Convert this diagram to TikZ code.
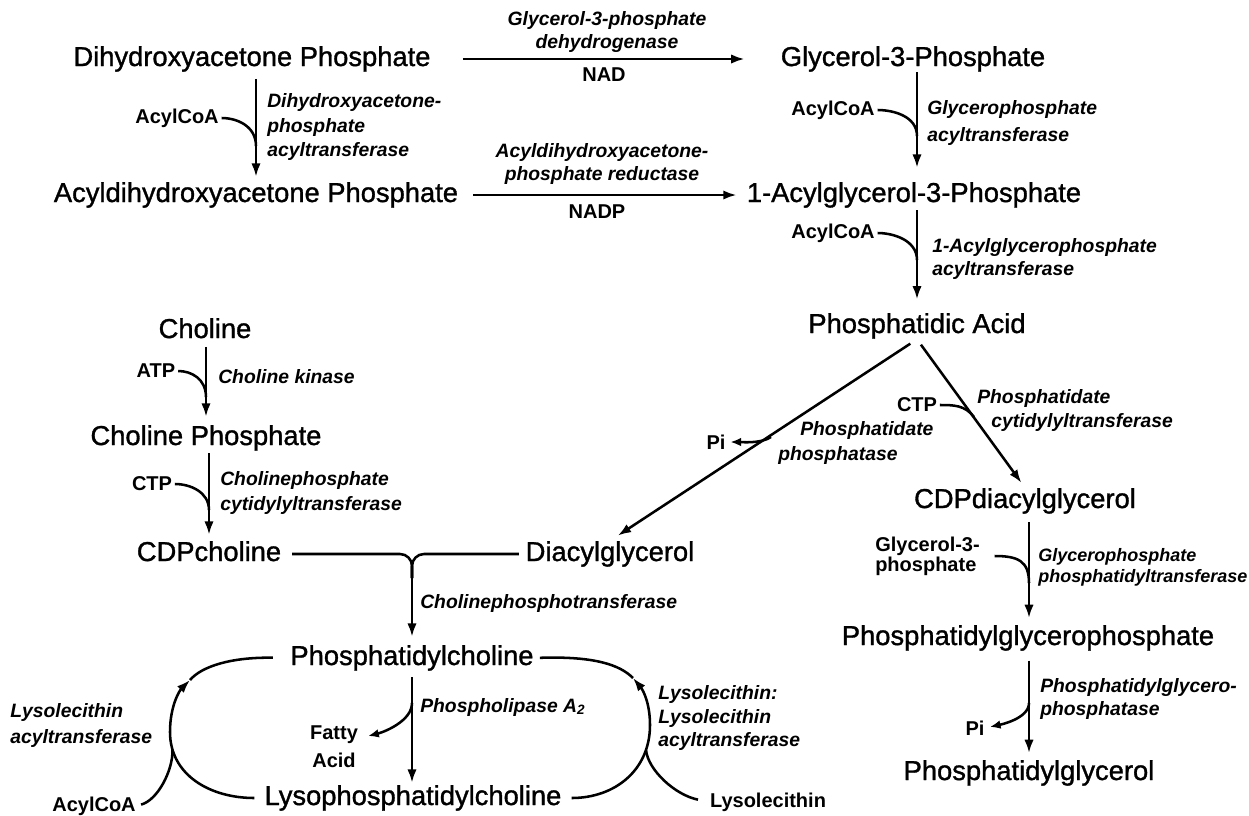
\documentclass[tikz,border=0pt]{standalone}
\usepackage{fontspec}
\setmainfont{Liberation Sans}
\newfontfamily\chemfont{Liberation Sans}[FakeBold=1.2]
\usetikzlibrary{arrows.meta,calc}

\newcommand\enzsize[2][14.5pt]{\fontsize{#1}{#2}\selectfont\bfseries\itshape}
\tikzset{
  chem/.style={font=\chemfont\fontsize{20.5}{24}\selectfont, inner sep=0pt, text height=15pt, text depth=4.5pt, anchor=base},
  enz/.style={font=\enzsize{18pt}, inner sep=0pt, align=left, anchor=west},
  cof/.style={font=\fontsize{15}{18}\selectfont\bfseries, inner sep=0pt, align=center},
  feed/.style={line width=1.9pt},
  rxn/.style={feed, -{Latex[length=10pt,width=7pt]}},
  release/.style={feed, -{Latex[length=8pt,width=6.5pt]}},
}

\begin{document}
\begin{tikzpicture}[x=0.75pt,y=0.75pt,yscale=-1,xscale=1]
\useasboundingbox (0,0) rectangle (1249,815);

% Text Node
\node[chem] (dhap) at (252,66) {Dihydroxyacetone Phosphate};
% Text Node
\node[chem] (gthreep) at (913,66) {Glycerol-3-Phosphate};
% Text Node
\node[chem] (adhap) at (256,202) {Acyldihydroxyacetone Phosphate};
% Text Node
\node[chem] (agp) at (914,202) {1-Acylglycerol-3-Phosphate};
% Text Node
\node[chem] (pa) at (917,333) {Phosphatidic Acid};
% Text Node
\node[chem] (cdpdag) at (1025,508) {CDPdiacylglycerol};
% Text Node
\node[chem] (pgp) at (1028,645) {Phosphatidylglycerophosphate};
% Text Node
\node[chem] (pg) at (1029,780) {Phosphatidylglycerol};
% Text Node
\node[chem] (cho) at (205,338) {Choline};
% Text Node
\node[chem] (chop) at (206,445) {Choline Phosphate};
% Text Node
\node[chem] (cdpc) at (209,561) {CDPcholine};
% Text Node
\node[chem] (dag) at (610,561) {Diacylglycerol};
% Text Node
\node[chem] (pc) at (412,665) {Phosphatidylcholine};
% Text Node
\node[chem] (lpc) at (413,805) {Lysophosphatidylcholine};

% Text Node
\node[cof] (nad) at (604,75) {NAD};
% Text Node
\node[cof] (nadp) at (597,212) {NADP};
% Text Node
\node[cof] (acoa1) at (177,118) {AcylCoA};
% Text Node
\node[cof] (acoa2) at (833,110) {AcylCoA};
% Text Node
\node[cof] (acoa3) at (833,233) {AcylCoA};
% Text Node
\node[cof] (atp) at (156,371) {ATP};
% Text Node
\node[cof] (ctp1) at (152,484) {CTP};
% Text Node
\node[cof] (ctp2) at (917,405) {CTP};
% Text Node
\node[cof] (pi1) at (716,442) {Pi};
% Text Node
\node[cof, font=\fontsize{15}{15}\selectfont\bfseries, align=left, anchor=west] (glyp) at (875,556) {Glycerol-3-\\phosphate};
% Text Node
\node[cof] (pi2) at (975,728) {Pi};
% Text Node
\node[cof, font=\fontsize{15}{21}\selectfont\bfseries] (fa) at (334,747) {Fatty\\Acid};
% Text Node
\node[cof] (acoa4) at (94,806) {AcylCoA};
% Text Node
\node[cof] (lysol) at (768,802) {Lysolecithin};

% Text Node
\node[enz, align=center, anchor=center, font=\enzsize{17pt}] (e1) at (607,32) {Glycerol-3-phosphate\\dehydrogenase};
% Text Node
\node[enz, align=center, anchor=center, font=\enzsize{17pt}] (e3) at (602,164) {Acyldihydroxyacetone-\\phosphate reductase};
% Text Node
\node[enz, font=\enzsize{18.4pt}] (e2) at (267,127) {Dihydroxyacetone-\\phosphate\\acyltransferase};
% Text Node
\node[enz, font=\enzsize{20pt}] (e4) at (927,123) {Glycerophosphate\\acyltransferase};
% Text Node
\node[enz, font=\enzsize{17.5pt}] (e5) at (932,259) {1-Acylglycerophosphate\\acyltransferase};
% Text Node
\node[enz] (e6) at (218,377) {Choline kinase};
% Text Node
\node[enz, font=\enzsize{18.8pt}] (e7) at (220,493) {Cholinephosphate\\cytidylyltransferase};
% Text Node
\node[enz, font=\enzsize{18.8pt}] (e8) at (778,443) {\hspace*{16.5pt}Phosphatidate\\phosphatase};
% Text Node
\node[enz] (e9) at (977,410) {Phosphatidate\\\hspace*{10.5pt}cytidylyltransferase};
% Text Node
\node[enz, font={\enzsize[13.5pt]{16pt}}] (e10) at (1038,567) {Glycerophosphate\\phosphatidyltransferase};
% Text Node
\node[enz] (e11) at (420,603) {Cholinephosphotransferase};
% Text Node
\node[enz] (e12) at (420,707) {Phospholipase A\textsubscript{2}};
% Text Node
\node[enz, font=\enzsize{19.5pt}] (e13) at (10,725) {Lysolecithin\\acyltransferase};
% Text Node
\node[enz, font=\enzsize{17.6pt}] (e14) at (658,718) {Lysolecithin:\\Lysolecithin\\acyltransferase};
% Text Node
\node[enz, font=\enzsize{17pt}] (e15) at (1040,699) {Phosphatidylglycero-\\phosphatase};

% Coordinates where side branches meet the arrows
\coordinate (j1) at (256,146);
\coordinate (j2) at (917,136);
\coordinate (j3) at (917,260);
\coordinate (j4) at (206,397);
\coordinate (j5) at (209,510);
\coordinate (j6) at (974,417);
\coordinate (j7) at (1029,583);
\coordinate (j8) at (771,437);
\coordinate (j9) at (412,703);
\coordinate (j10) at (1029,703);
\coordinate (m) at (412,578);
\coordinate (la) at (190,680);
\coordinate (ra) at (633,678);

%Straight Lines
\draw[rxn, shorten <=24pt, shorten >=27pt] (dhap.east) -- (gthreep.west);
%Straight Lines
\draw[rxn, shorten <=11pt, shorten >=7.5pt] (adhap.east) -- (agp.west);
%Straight Lines
\draw[rxn, shorten <=5pt, shorten >=3.75pt] (dhap.south -| adhap) -- (adhap.north);
%Straight Lines
\draw[rxn, shorten >=10.5pt] (gthreep.south -| pa) -- (agp.north -| pa);
%Straight Lines
\draw[rxn, shorten <=1.5pt, shorten >=10pt] (agp.south -| pa) -- (pa.north);
%Straight Lines
\draw[rxn, shorten <=6pt, shorten >=7pt] (pa.south) -- (dag.north);
%Straight Lines
\draw[rxn, shorten <=5pt, shorten >=4.5pt] (pa.south) -- (cdpdag.north);
%Straight Lines
\draw[rxn, shorten <=2pt, shorten >=6pt] (cho.south -| chop) -- (chop.north);
%Straight Lines
\draw[rxn, shorten <=1.5pt, shorten >=4.5pt] (chop.south -| cdpc) -- (cdpc.north);
%Straight Lines
\draw[rxn, shorten <=6pt, shorten >=5pt] (cdpdag.south -| pg) -- (pgp.north -| pg);
%Straight Lines
\draw[rxn, shorten <=7pt, shorten >=5pt] (pgp.south -| pg) -- (pg.north);
%Straight Lines
\draw[rxn, shorten <=4.5pt, shorten >=1.5pt] (pc.south) -- (pc.south |- lpc.north);

% Merge into Phosphatidylcholine
\draw[feed, rounded corners=9pt, shorten <=8pt] (cdpc.east) -| (m);
\draw[feed, rounded corners=9pt, shorten <=5pt] (dag.west) -| (m);
\draw[rxn, shorten >=6pt] (m) -- (m |- pc.north);

% Side curves
\draw[feed, shorten <=2pt] (acoa1.east) .. controls +(18,0) and +(0,-20) .. (j1);
\draw[feed, shorten <=2pt] (acoa2.east) .. controls +(18,0) and +(0,-20) .. (j2);
\draw[feed, shorten <=2pt] (acoa3.east) .. controls +(18,0) and +(0,-20) .. (j3);
\draw[feed, shorten <=2pt] (atp.east) .. controls +(16,0) and +(0,-18) .. (j4);
\draw[feed, shorten <=2pt] (ctp1.east) .. controls +(18,0) and +(0,-18) .. (j5);
\draw[feed, shorten <=2pt] (ctp2.east) .. controls +(16,0) and +(-9,-12) .. (j6);
\draw[feed, shorten <=11pt] (glyp.east) .. controls +(38,0) and +(0,-22) .. (j7);
\draw[release, shorten >=3.5pt] (j8) .. controls +(-10,7) and +(14,0) .. (pi1.east);
\draw[release] (j9) .. controls +(0,18) and +(16,-4) .. ($(fa.east)+(10,-11)$);
\draw[release, shorten >=4pt] (j10) .. controls +(0,16) and +(14,-3) .. (pi2.east);

% Left loop
\draw[rxn, shorten <=7.5pt] (lpc.west) .. controls (210,798) and (170,775) .. (170,732) .. controls (170,705) and (180,690) .. (la);
\draw[feed, shorten <=13pt] (pc.west) .. controls (232,657) and (202,666) .. (la);
\draw[feed, shorten <=4pt] (acoa4.east) .. controls (158,800) and (173,770) .. (172.5,750);

% Right loop
\draw[rxn, shorten <=7.5pt] (lpc.east) .. controls (615,798) and (650,770) .. (650,725) .. controls (650,703) and (643,690) .. (ra);
\draw[feed, shorten <=4.5pt] (pc.east) .. controls (595,656) and (620,665) .. (ra);
\draw[feed, shorten <=9pt] (lysol.west) .. controls (675,795) and (648,770) .. (646,750);

\end{tikzpicture}
\end{document}
